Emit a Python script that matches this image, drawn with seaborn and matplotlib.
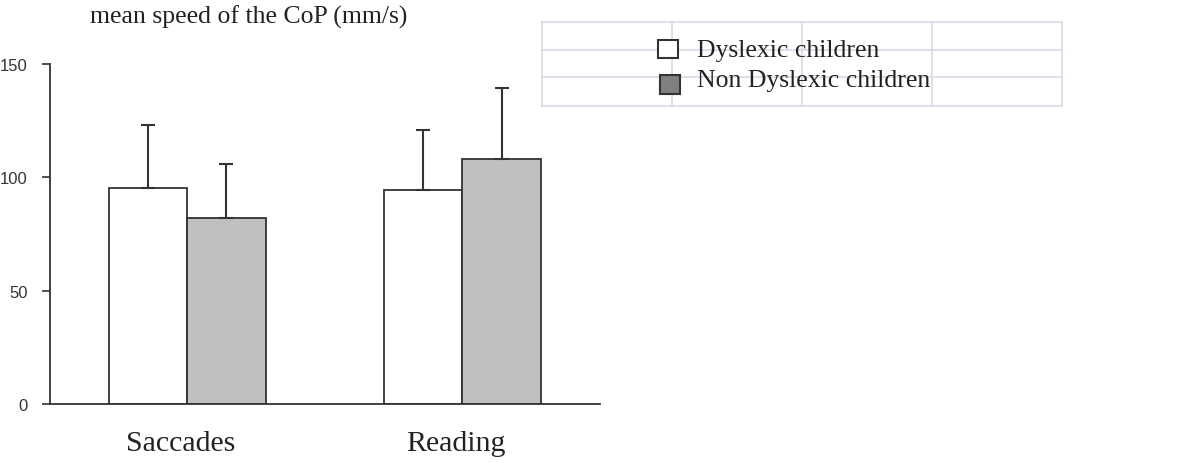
import matplotlib
matplotlib.use("Agg")
import matplotlib.pyplot as plt
import matplotlib.transforms as mtransforms
import seaborn as sns
import pandas as pd
import numpy as np
from matplotlib.patches import Rectangle
from matplotlib.lines import Line2D

categories = ["Saccades", "Reading"]
groups = ["Dyslexic children", "Non Dyslexic children"]
means_dys = [95.5, 94.5]
means_non = [82, 108]
err_dys = [27.5, 26.5]
err_non = [24, 31.5]
yticks = [0, 50, 100, 150]

df = pd.DataFrame({
    "task": categories * 2,
    "group": [groups[0]] * 2 + [groups[1]] * 2,
    "value": means_dys + means_non,
    "err": err_dys + err_non,
})

sns.set_theme(style="white")
plt.rcParams["font.family"] = ["Liberation Sans", "DejaVu Sans"]

W, H = 1187, 464
fig = plt.figure(figsize=(W/100, H/100), dpi=100)
ax = fig.add_axes([50/W, 1-405/H, (600-50)/W, (405-65)/H])

bar_colors = {groups[0]: "#ffffff", groups[1]: "#c0c0c0"}
sns.barplot(data=df, x="task", y="value", hue="group", order=categories,
            hue_order=groups, palette=bar_colors, width=0.57, errorbar=None,
            edgecolor="#333333", linewidth=1.3, legend=False, ax=ax)

# upward error bars
for container, g in zip(ax.containers, groups):
    sub = df[df.group == g].set_index("task").loc[categories]
    xs = [p.get_x() + p.get_width()/2 for p in container.patches]
    ax.errorbar(xs, sub["value"].values,
                yerr=[np.zeros(len(xs)), sub["err"].values],
                fmt="none", ecolor="#333333", elinewidth=1.5, capsize=5,
                capthick=1.5, zorder=1)

ax.set_xlim(-0.498, 1.50)
ax.set_ylim(0, 150)
ax.set_yticks(yticks)
ax.set_yticklabels([str(t) for t in yticks], fontsize=12, color="#333333")
ax.set_xticks(range(len(categories)))
ax.set_xticklabels(categories, fontsize=21.5, family=["Liberation Serif"], color="#222222")
ax.tick_params(axis="x", length=0, pad=19)
ax.tick_params(axis="y", length=6, width=1.2, color="#333333", left=True, pad=10)
shift = mtransforms.ScaledTranslation(-6/100, 0, fig.dpi_scale_trans)
for lab in ax.get_xticklabels():
    lab.set_transform(lab.get_transform() + shift)
ax.set_xlabel("")
ax.set_ylabel("")
for s in ["top", "right"]:
    ax.spines[s].set_visible(False)
for s in ["left", "bottom"]:
    ax.spines[s].set_color("#333333")
    ax.spines[s].set_linewidth(1.3)

fig.text(249/W, 1-17/H, "mean speed of the CoP (mm/s)", ha="center", va="center",
         fontsize=18.5, family=["Liberation Serif"], color="#222222")

# table-like grid behind legend
gc = "#d9d9e8"
xs_grid = [542, 672, 802, 932, 1062]
ys_grid = [23, 51, 78, 107]
for xg in xs_grid:
    fig.add_artist(Line2D([xg/W, xg/W], [1-23/H, 1-107/H], color=gc, lw=1.2, zorder=1))
for yg in ys_grid:
    fig.add_artist(Line2D([542/W, 1062/W], [1-yg/H, 1-yg/H], color=gc, lw=1.2, zorder=1))

# legend entries
legend_fills = ["#ffffff", "#808080"]
legend_boxes = [(658, 41, 20, 18), (660, 76, 20, 19)]
legend_text_y = [51, 81]
for lbl, fc, (bx, by, bw, bh), ty in zip(groups, legend_fills, legend_boxes, legend_text_y):
    fig.add_artist(Rectangle((bx/W, 1-(by+bh)/H), bw/W, bh/H, transform=fig.transFigure,
                             facecolor=fc, edgecolor="#333333", linewidth=1.5, zorder=5))
    fig.text(697/W, 1-ty/H, lbl, ha="left", va="center", fontsize=18.5,
             family=["Liberation Serif"], color="#222222", zorder=6)

fig.savefig("out.png", dpi=100)
